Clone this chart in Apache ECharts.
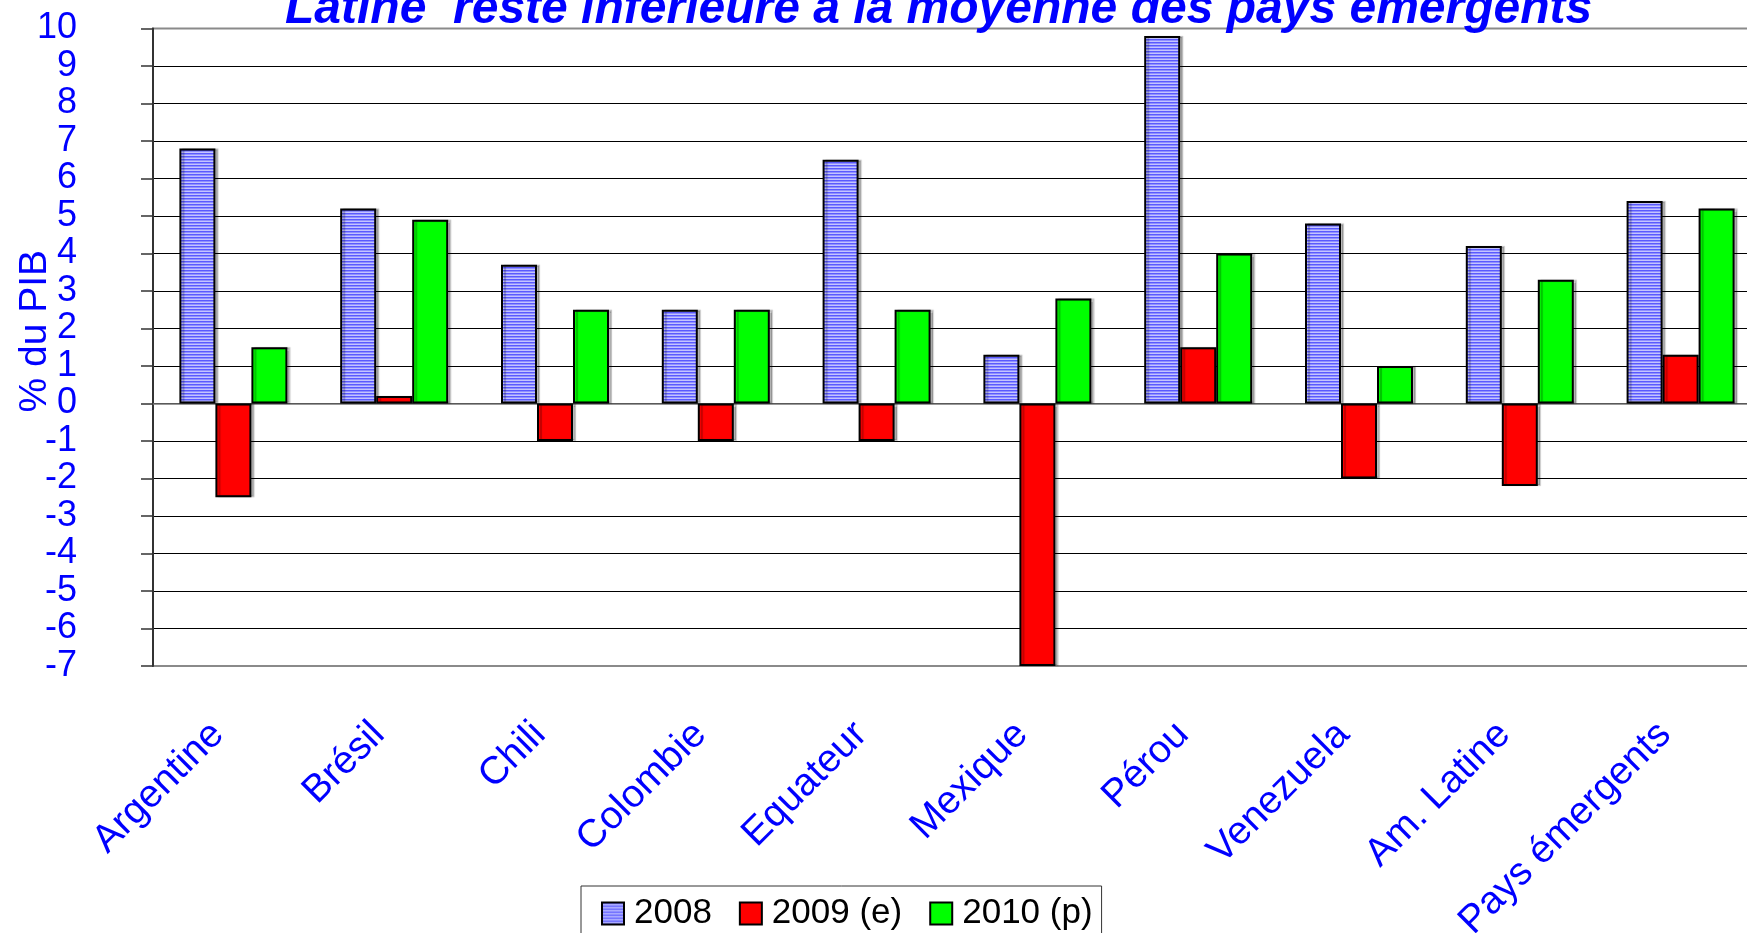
<!DOCTYPE html>
<html>
<head>
<meta charset="utf-8">
<script src="https://cdn.jsdelivr.net/npm/echarts@6/dist/echarts.min.js"></script>
<style>
  html, body { margin: 0; padding: 0; background: #fff; }
  #chart { width: 1747px; height: 933px; }
</style>
</head>
<body>
<div id="chart"></div>
<script>
// données
var categories = ["Argentine", "Brésil", "Chili", "Colombie", "Equateur", "Mexique", "Pérou", "Venezuela", "Am. Latine", "Pays émergents"];
var values2008 = [6.8, 5.2, 3.7, 2.5, 6.5, 1.3, 9.8, 4.8, 4.2, 5.4];
var values2009 = [-2.5, 0.2, -1.0, -1.0, -1.0, -7.0, 1.5, -2.0, -2.2, 1.3];
var values2010 = [1.5, 4.9, 2.5, 2.5, 2.5, 2.8, 4.0, 1.0, 3.3, 5.2];
var seriesNames = ["2008", "2009 (e)", "2010 (p)"];

var font = "'Liberation Sans', Arial, sans-serif";
var blue = "#0000ff";

// motif rayé pour 2008
function stripes() {
  var c = document.createElement("canvas");
  c.width = 4;
  c.height = 3;
  var ctx = c.getContext("2d");
  ctx.fillStyle = "#c4c4ff";
  ctx.fillRect(0, 0, 4, 3);
  ctx.fillStyle = "#5a5aff";
  ctx.fillRect(0, 0, 4, 1);
  ctx.fillStyle = "#9090ff";
  ctx.fillRect(0, 1, 4, 1);
  return c;
}

var barStyle = function (color) {
  return {
    color: color,
    borderColor: "#000",
    borderWidth: 2,
    shadowColor: "rgba(0,0,0,0.25)",
    shadowOffsetX: 3,
    shadowOffsetY: 0,
    shadowBlur: 1
  };
};

var chart = echarts.init(document.getElementById("chart"));
chart.setOption({
  animation: false,
  title: {
    text: "Latine  reste inférieure à la moyenne des pays émergents",
    left: 280,
    top: -19,
    textStyle: {
      color: blue,
      fontSize: 48,
      fontWeight: "bold",
      fontStyle: "italic",
      fontFamily: font
    }
  },
  legend: {
    data: seriesNames,
    icon: "rect",
    left: 581,
    top: 886,
    padding: [10, 9, 14, 20],
    itemGap: 27,
    itemWidth: 22,
    itemHeight: 22,
    borderColor: "#333",
    borderWidth: 1,
    backgroundColor: "#fff",
    itemStyle: { borderColor: "#000", borderWidth: 2 },
    textStyle: { color: "#000", fontSize: 35, fontFamily: font, padding: [0, 0, 0, 5] }
  },
  grid: {
    left: 153,
    right: -14,
    top: 28.5,
    bottom: 267,
    outerBoundsMode: "none",
    containLabel: false,
    show: true,
    borderColor: "#8a8a8a",
    borderWidth: 2
  },
  xAxis: {
    type: "category",
    data: categories,
    axisLine: { onZero: true, lineStyle: { color: "#777", width: 1.5 } },
    axisTick: { length: 12, interval: 0, lineStyle: { color: "#777", width: 2 } },
    axisLabel: {
      interval: 0,
      rotate: 45,
      margin: 47,
      color: blue,
      fontSize: 39,
      fontFamily: font,
      padding: [0, 22, 0, 0]
    }
  },
  yAxis: {
    type: "value",
    min: -7,
    max: 10,
    interval: 1,
    name: "% du PIB",
    nameLocation: "middle",
    nameGap: 98,
    nameMoveOverlap: false,
    nameTextStyle: { color: blue, fontSize: 39, fontFamily: font, padding: [0, 0, 0, 32] },
    axisLine: { show: true, lineStyle: { color: "#333", width: 2 } },
    axisTick: { show: true, length: 12, lineStyle: { color: "#333", width: 1.5 } },
    axisLabel: {
      margin: 76,
      color: blue,
      fontSize: 36,
      fontFamily: font
    },
    splitLine: { show: true, showMinLine: false, showMaxLine: false, lineStyle: { color: "#000", width: 1.2 } }
  },
  series: [
    {
      name: seriesNames[0],
      type: "bar",
      data: values2008,
      barWidth: 36,
      barGap: "0%",
      itemStyle: barStyle({ image: stripes(), repeat: "repeat" })
    },
    {
      name: seriesNames[1],
      type: "bar",
      data: values2009,
      barWidth: 36,
      barGap: "0%",
      itemStyle: barStyle("#ff0000")
    },
    {
      name: seriesNames[2],
      type: "bar",
      data: values2010,
      barWidth: 36,
      barGap: "0%",
      itemStyle: barStyle("#00ff00")
    }
  ]
});
</script>
</body>
</html>
